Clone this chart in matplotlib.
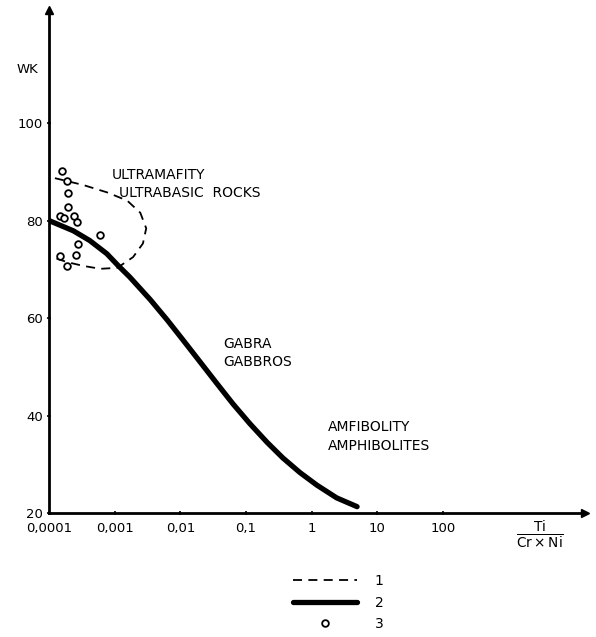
import matplotlib
matplotlib.use("Agg")
import matplotlib.pyplot as plt
import numpy as np

# main curve (2): log10(Ti/(Cr*Ni)) vs WK
curve_logx = [-4.0, -3.63, -3.38, -3.12, -2.95, -2.77, -2.46, -2.20, -1.96, -1.70,
              -1.44, -1.20, -0.94, -0.68, -0.44, -0.18, 0.08, 0.38, 0.69]
curve_wk = [80.0, 77.9, 75.9, 73.2, 70.8, 68.4, 63.8, 59.6, 55.5, 51.0,
            46.5, 42.4, 38.3, 34.5, 31.3, 28.3, 25.7, 23.1, 21.3]

# dashed field (1) ultrabasic rocks
field_logx = [-3.91, -3.48, -3.12, -2.81, -2.61, -2.52, -2.57, -2.72, -2.96,
              -3.22, -3.48, -3.73, -3.95]
field_wk = [88.7, 87.3, 85.8, 84.1, 81.6, 78.4, 75.3, 72.5, 70.3,
            70.1, 70.7, 71.5, 72.5]

# samples (3)
pts_logx = [-3.80, -3.73, -3.71, -3.71, -3.83, -3.77, -3.62, -3.57, -3.22,
            -3.56, -3.59, -3.83, -3.73]
pts_wk = [90.1, 88.2, 85.7, 82.7, 81.0, 80.6, 81.0, 79.8, 77.1,
          75.1, 73.0, 72.8, 70.6]

xticks = [1e-4, 1e-3, 1e-2, 1e-1, 1, 10, 100]
xticklabels = ["0,0001", "0,001", "0,01", "0,1", "1", "10", "100"]
yticks = [20, 40, 60, 80, 100]

fig = plt.figure(figsize=(5.96, 6.37), dpi=100)
ax = fig.add_axes([49 / 596, 1 - 513 / 637, 536 / 596, 503 / 637])

ax.plot(10 ** np.array(field_logx), field_wk, color="black", lw=1.3,
        dashes=(5, 3.5), label="1")
ax.plot(10 ** np.array(curve_logx), curve_wk, color="black", lw=3.8,
        solid_capstyle="round", solid_joinstyle="round", label="2")
ax.plot(10 ** np.array(pts_logx), pts_wk, "o", ms=4.8, mfc="white",
        mec="black", mew=1.3, ls="none", label="3")

ax.set_xscale("log")
ax.set_xlim(1e-4, 10 ** 4.16)
ax.set_ylim(20, 123.2)
ax.set_xticks(xticks)
ax.set_xticklabels(xticklabels)
ax.xaxis.set_minor_locator(matplotlib.ticker.NullLocator())
ax.set_yticks(yticks)
ax.tick_params(axis="both", labelsize=9.5, width=1.2, length=3, direction="inout")
ax.tick_params(axis="x", pad=5)
ax.tick_params(axis="y", pad=3)

for s in ["top", "right"]:
    ax.spines[s].set_visible(False)
for s in ["left", "bottom"]:
    ax.spines[s].set_linewidth(2)

# arrow heads
ax.plot(0, 1, "^", color="black", ms=5.5, transform=ax.transAxes, clip_on=False)
ax.plot(1, 0, ">", color="black", ms=5.5, transform=ax.transAxes, clip_on=False)

ax.text(-0.041, 0.881, "WK", transform=ax.transAxes, ha="center", va="center",
        fontsize=9.5)
ax.text(0.916, -0.044, r"$\frac{\mathrm{Ti}}{\mathrm{Cr \times Ni}}$",
        transform=ax.transAxes, ha="center", va="center", fontsize=14)

ax.text(10 ** -3.04, 89.3, "ULTRAMAFITY", fontsize=10, va="center")
ax.text(10 ** -2.93, 85.6, "ULTRABASIC  ROCKS", fontsize=10, va="center")
ax.text(10 ** -1.35, 54.7, "GABRA", fontsize=10, va="center")
ax.text(10 ** -1.35, 51.0, "GABBROS", fontsize=10, va="center")
ax.text(10 ** 0.25, 37.6, "AMFIBOLITY", fontsize=10, va="center")
ax.text(10 ** 0.25, 33.7, "AMPHIBOLITES", fontsize=10, va="center")

fig.legend(loc="upper left", bbox_to_anchor=(286 / 596, 1 - 567 / 637),
           frameon=False, fontsize=10, handlelength=4.6, handletextpad=1.3,
           labelspacing=0.55, borderpad=0)

fig.savefig("out.png", dpi=100)
